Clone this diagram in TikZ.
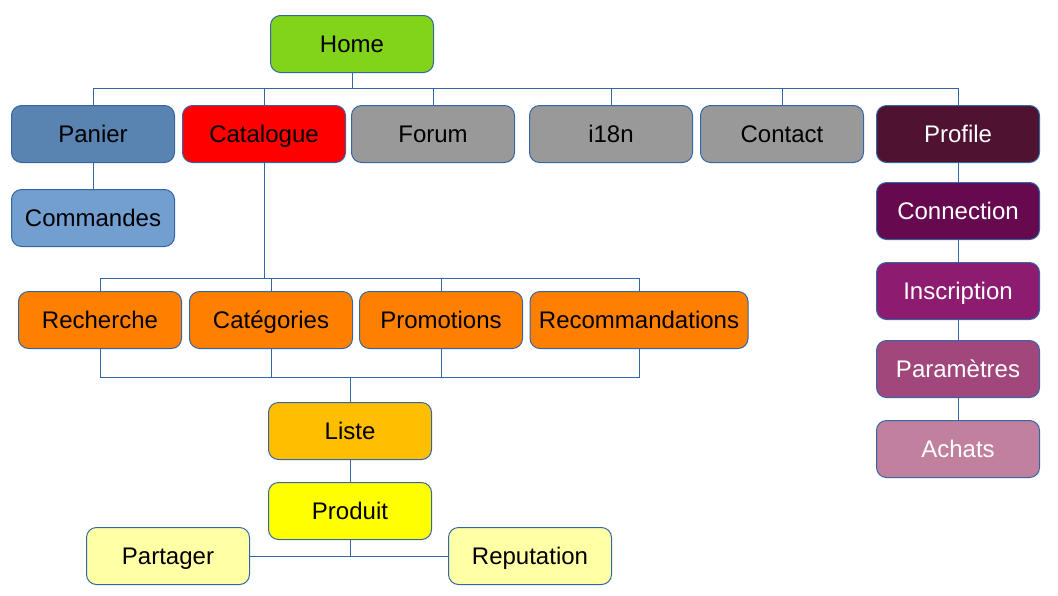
\documentclass[tikz,border=0pt]{standalone}
\usepackage{fontspec}
\setmainfont{Liberation Sans}
\definecolor{linecol}{HTML}{3465A4}
\definecolor{homecol}{HTML}{81D41A}
\definecolor{paniercol}{HTML}{5983B0}
\definecolor{commcol}{HTML}{729FCF}
\definecolor{greycol}{HTML}{999999}
\definecolor{orangecol}{HTML}{FF8000}
\definecolor{listecol}{HTML}{FFBF00}
\definecolor{produitcol}{HTML}{FFFF00}
\definecolor{palecol}{HTML}{FFFFA6}
\definecolor{profcol}{HTML}{4F1230}
\definecolor{conncol}{HTML}{66094F}
\definecolor{inscol}{HTML}{8D1C70}
\definecolor{paramcol}{HTML}{A1477C}
\definecolor{achatcol}{HTML}{C0809E}

\begin{document}
\begin{tikzpicture}[x=0.5pt,y=-0.5pt,
  box/.style={draw=linecol, line width=0.5pt, rounded corners=5pt, minimum width=81.5pt, minimum height=28.5pt, inner sep=0pt, text height=8.6pt, text depth=0pt, font=\fontsize{12}{14}\selectfont},
  link/.style={draw=linecol, line width=0.5pt}]
\useasboundingbox (0,0) rectangle (1058,595);
\node[box, fill=homecol] (home) at (352,44) {Home};
\node[box, fill=paniercol] (panier) at (93,134) {Panier};
\node[box, fill=red] (catalogue) at (264,134) {Catalogue};
\node[box, fill=greycol] (forum) at (433,134) {Forum};
\node[box, fill=greycol] (i18n) at (611,134) {i18n};
\node[box, fill=greycol] (contact) at (782,134) {Contact};
\node[box, fill=profcol, text=white] (profile) at (958,134) {Profile};
\node[box, fill=commcol] (commandes) at (93,218) {Commandes};
\node[box, fill=conncol, text=white] (connection) at (958,211) {Connection};
\node[box, fill=inscol, text=white] (inscription) at (958,291) {Inscription};
\node[box, fill=paramcol, text=white] (parametres) at (958,369) {Paramètres};
\node[box, fill=achatcol, text=white] (achats) at (958,449) {Achats};
\node[box, fill=orangecol] (recherche) at (100,320) {Recherche};
\node[box, fill=orangecol] (categories) at (271,320) {Catégories};
\node[box, fill=orangecol] (promotions) at (441,320) {Promotions};
\node[box, fill=orangecol, minimum width=109pt] (recomm) at (639,320) {Recommandations};
\node[box, fill=listecol] (liste) at (350,431) {Liste};
\node[box, fill=produitcol] (produit) at (350,511) {Produit};
\node[box, fill=palecol] (partager) at (168,556) {Partager};
\node[box, fill=palecol] (reputation) at (530,556) {Reputation};
\coordinate (topbus) at (0,88);
\coordinate (orangetop) at (0,278);
\coordinate (orangebot) at (0,377);
\draw[link] (home.south) -- (home.south |- topbus);
\draw[link] (panier.north) -- (panier.north |- topbus) -- (profile.north |- topbus) -- (profile.north);
\foreach \n in {catalogue,forum,i18n,contact}
  \draw[link] (\n.north) -- (\n.north |- topbus);
\draw[link] (panier) -- (commandes);
\draw[link] (profile) -- (connection) -- (inscription) -- (parametres) -- (achats);
\draw[link] (catalogue.south) -- (catalogue.south |- orangetop);
\draw[link] (recherche.north) -- (recherche.north |- orangetop) -- (recomm.north |- orangetop) -- (recomm.north);
\draw[link] (recherche.south) -- (recherche.south |- orangebot) -- (recomm.south |- orangebot) -- (recomm.south);
\foreach \n in {categories,promotions} {
  \draw[link] (\n.north) -- (\n.north |- orangetop);
  \draw[link] (\n.south) -- (\n.south |- orangebot);
}
\draw[link] (liste.north |- orangebot) -- (liste.north);
\draw[link] (liste) -- (produit);
\draw[link] (produit.south) -- (produit.south |- partager.east);
\draw[link] (partager.east) -- (reputation.west);
\end{tikzpicture}
\end{document}
